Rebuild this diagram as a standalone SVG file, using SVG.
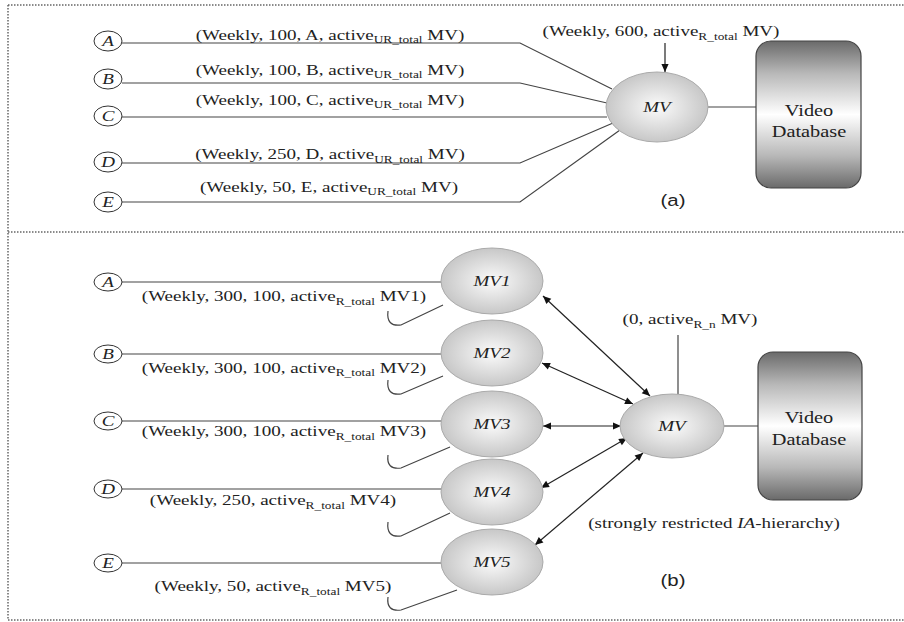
<svg xmlns="http://www.w3.org/2000/svg" width="904" height="622" viewBox="0 0 904 622">
<defs>
<style>
.t{font-family:"Liberation Serif","Times New Roman",serif;font-size:15px;fill:#222;text-anchor:middle}
.sub{font-size:10.5px}
.it{font-style:italic}
.sans{font-family:"Liberation Sans",Arial,sans-serif;font-size:17px;fill:#222;text-anchor:middle}
.db{font-size:16px}
.frame{stroke:#666;stroke-width:1.5;stroke-dasharray:1.5 1.5;fill:none}
.ln{stroke:#444;stroke-width:1.2;fill:none}
.arr{stroke:#222;stroke-width:1.2;fill:none}
.small{fill:#fff;stroke:#333;stroke-width:1}
.mv{fill:url(#gEll);stroke:#aaa;stroke-width:1}
.box{fill:url(#gBox);stroke:#444;stroke-width:1.2}
</style>
<radialGradient id="gEll" cx="50%" cy="50%" r="55%">
<stop offset="0" stop-color="#fbfbfb"/>
<stop offset="1" stop-color="#c2c2c2"/>
</radialGradient>
<linearGradient id="gBox" x1="0" y1="0" x2="0" y2="1">
<stop offset="0" stop-color="#6a6a6a"/>
<stop offset="0.22" stop-color="#b8b8b8"/>
<stop offset="0.5" stop-color="#ffffff"/>
<stop offset="0.78" stop-color="#b8b8b8"/>
<stop offset="1" stop-color="#6a6a6a"/>
</linearGradient>
<marker id="ah" viewBox="0 0 10 10" refX="10" refY="5" markerWidth="10" markerHeight="8" markerUnits="userSpaceOnUse" orient="auto-start-reverse">
<path d="M0,0.5 L10,5 L0,9.5 z" fill="#111"/>
</marker>
</defs>

<g id="frame">
<line class="frame" x1="8" y1="5" x2="904" y2="5"/>
<line class="frame" x1="8" y1="5" x2="8" y2="620"/>
<line class="frame" x1="8" y1="232" x2="904" y2="232"/>
<line class="frame" x1="8" y1="620" x2="904" y2="620"/>
</g>

<g id="connectors">
<!-- part (a) -->
<polyline class="ln" points="122,43 520,43 612,89"/>
<polyline class="ln" points="122,83 520,83 607,103"/>
<polyline class="ln" points="122,117 607,117"/>
<polyline class="ln" points="122,163 520,163 613,123"/>
<polyline class="ln" points="122,202 520,202 620,130"/>
<line class="arr" x1="665" y1="43" x2="665" y2="72" marker-end="url(#ah)"/>
<line class="ln" x1="708" y1="107" x2="756" y2="107"/>
<!-- part (b) -->
<line class="ln" x1="122" y1="282" x2="441" y2="282"/>
<line class="ln" x1="122" y1="354" x2="441" y2="354"/>
<line class="ln" x1="122" y1="421" x2="441" y2="421"/>
<line class="ln" x1="122" y1="489" x2="441" y2="489"/>
<line class="ln" x1="122" y1="563" x2="441" y2="563"/>
<path class="ln" d="M388,311 Q386,327 401,325 L443,305"/>
<path class="ln" d="M388,380 Q386,396 401,394 L443,376"/>
<path class="ln" d="M388,455 Q386,470 401,468 L450,447"/>
<path class="ln" d="M388,522 Q386,538 401,536 L450,513"/>
<path class="ln" d="M388,597 Q386,612 401,610 L457,590"/>
<line class="arr" x1="543" y1="296" x2="650" y2="396" marker-start="url(#ah)" marker-end="url(#ah)"/>
<line class="arr" x1="542" y1="363" x2="633" y2="404" marker-start="url(#ah)" marker-end="url(#ah)"/>
<line class="arr" x1="543" y1="426" x2="621" y2="426" marker-start="url(#ah)" marker-end="url(#ah)"/>
<line class="arr" x1="541" y1="488" x2="627" y2="438" marker-start="url(#ah)" marker-end="url(#ah)"/>
<line class="arr" x1="535" y1="545" x2="643" y2="453" marker-start="url(#ah)" marker-end="url(#ah)"/>
<line class="ln" x1="678" y1="335" x2="678" y2="394"/>
<line class="ln" x1="724" y1="426" x2="758" y2="426"/>
</g>

<!-- part (a) nodes -->
<g id="a-A"><ellipse class="small" cx="108" cy="41" rx="14" ry="10"/><text class="t it" transform="translate(108,46) scale(1.27,1)">A</text></g>
<g id="a-B"><ellipse class="small" cx="108" cy="79" rx="14" ry="10"/><text class="t it" transform="translate(108,84) scale(1.27,1)">B</text></g>
<g id="a-C"><ellipse class="small" cx="108" cy="116" rx="14" ry="10"/><text class="t it" transform="translate(108,121) scale(1.27,1)">C</text></g>
<g id="a-D"><ellipse class="small" cx="108" cy="162" rx="14" ry="10"/><text class="t it" transform="translate(108,167) scale(1.27,1)">D</text></g>
<g id="a-E"><ellipse class="small" cx="108" cy="202" rx="14" ry="10"/><text class="t it" transform="translate(108,207) scale(1.27,1)">E</text></g>
<g id="a-MV"><ellipse class="mv" cx="657" cy="107" rx="51" ry="35"/><text class="t it" transform="translate(657,112) scale(1.27,1)">MV</text></g>
<g id="a-DB"><rect class="box" x="756" y="41" width="105" height="147" rx="15"/>
<text class="t db" transform="translate(809,116) scale(1.27,1)">Video</text>
<text class="t db" transform="translate(809,137) scale(1.27,1)">Database</text></g>

<g id="a-labels">
<text class="t" transform="translate(330,39.5) scale(1.27,1)">(Weekly, 100, A, active<tspan class="sub" dy="3.5">UR_total</tspan><tspan dy="-3.5"> MV)</tspan></text>
<text class="t" transform="translate(330,74.5) scale(1.27,1)">(Weekly, 100, B, active<tspan class="sub" dy="3.5">UR_total</tspan><tspan dy="-3.5"> MV)</tspan></text>
<text class="t" transform="translate(330,104.5) scale(1.27,1)">(Weekly, 100, C, active<tspan class="sub" dy="3.5">UR_total</tspan><tspan dy="-3.5"> MV)</tspan></text>
<text class="t" transform="translate(330,159) scale(1.27,1)">(Weekly, 250, D, active<tspan class="sub" dy="3.5">UR_total</tspan><tspan dy="-3.5"> MV)</tspan></text>
<text class="t" transform="translate(329,191.5) scale(1.27,1)">(Weekly, 50, E, active<tspan class="sub" dy="3.5">UR_total</tspan><tspan dy="-3.5"> MV)</tspan></text>
<text class="t" transform="translate(661,36) scale(1.27,1)">(Weekly, 600, active<tspan class="sub" dy="3.5">R_total</tspan><tspan dy="-3.5"> MV)</tspan></text>
<text class="sans" transform="translate(673,206) scale(1.2,1)">(a)</text>
</g>

<!-- part (b) nodes -->
<g id="b-A"><ellipse class="small" cx="108" cy="282" rx="14" ry="9"/><text class="t it" transform="translate(108,287) scale(1.27,1)">A</text></g>
<g id="b-B"><ellipse class="small" cx="108" cy="354" rx="14" ry="9"/><text class="t it" transform="translate(108,359) scale(1.27,1)">B</text></g>
<g id="b-C"><ellipse class="small" cx="108" cy="421" rx="14" ry="9"/><text class="t it" transform="translate(108,426) scale(1.27,1)">C</text></g>
<g id="b-D"><ellipse class="small" cx="108" cy="489" rx="14" ry="9"/><text class="t it" transform="translate(108,494) scale(1.27,1)">D</text></g>
<g id="b-E"><ellipse class="small" cx="108" cy="563" rx="14" ry="9"/><text class="t it" transform="translate(108,568) scale(1.27,1)">E</text></g>
<g id="b-MV1"><ellipse class="mv" cx="492" cy="281" rx="51" ry="33"/><text class="t it" transform="translate(492,286) scale(1.27,1)">MV1</text></g>
<g id="b-MV2"><ellipse class="mv" cx="492" cy="353" rx="51" ry="33"/><text class="t it" transform="translate(492,358) scale(1.27,1)">MV2</text></g>
<g id="b-MV3"><ellipse class="mv" cx="492" cy="424" rx="51" ry="33"/><text class="t it" transform="translate(492,429) scale(1.27,1)">MV3</text></g>
<g id="b-MV4"><ellipse class="mv" cx="492" cy="492" rx="51" ry="33"/><text class="t it" transform="translate(492,497) scale(1.27,1)">MV4</text></g>
<g id="b-MV5"><ellipse class="mv" cx="492" cy="562" rx="51" ry="33"/><text class="t it" transform="translate(492,567) scale(1.27,1)">MV5</text></g>
<g id="b-MV"><ellipse class="mv" cx="672" cy="426" rx="52" ry="32"/><text class="t it" transform="translate(672,431) scale(1.27,1)">MV</text></g>
<g id="b-DB"><rect class="box" x="758" y="352" width="104" height="148" rx="15"/>
<text class="t db" transform="translate(809,423) scale(1.27,1)">Video</text>
<text class="t db" transform="translate(809,445) scale(1.27,1)">Database</text></g>

<g id="b-labels">
<text class="t" transform="translate(284,301) scale(1.27,1)">(Weekly, 300, 100, active<tspan class="sub" dy="3.5">R_total</tspan><tspan dy="-3.5"> MV1)</tspan></text>
<text class="t" transform="translate(284,372.5) scale(1.27,1)">(Weekly, 300, 100, active<tspan class="sub" dy="3.5">R_total</tspan><tspan dy="-3.5"> MV2)</tspan></text>
<text class="t" transform="translate(284,436) scale(1.27,1)">(Weekly, 300, 100, active<tspan class="sub" dy="3.5">R_total</tspan><tspan dy="-3.5"> MV3)</tspan></text>
<text class="t" transform="translate(273,505) scale(1.27,1)">(Weekly, 250, active<tspan class="sub" dy="3.5">R_total</tspan><tspan dy="-3.5"> MV4)</tspan></text>
<text class="t" transform="translate(273,591) scale(1.27,1)">(Weekly, 50, active<tspan class="sub" dy="3.5">R_total</tspan><tspan dy="-3.5"> MV5)</tspan></text>
<text class="t" transform="translate(690,324) scale(1.27,1)">(0, active<tspan class="sub" dy="3.5">R_n</tspan><tspan dy="-3.5"> MV)</tspan></text>
<text class="t" transform="translate(714,528) scale(1.27,1)">(strongly restricted <tspan class="it">IA</tspan>-hierarchy)</text>
<text class="sans" transform="translate(673,586) scale(1.2,1)">(b)</text>
</g>
</svg>
